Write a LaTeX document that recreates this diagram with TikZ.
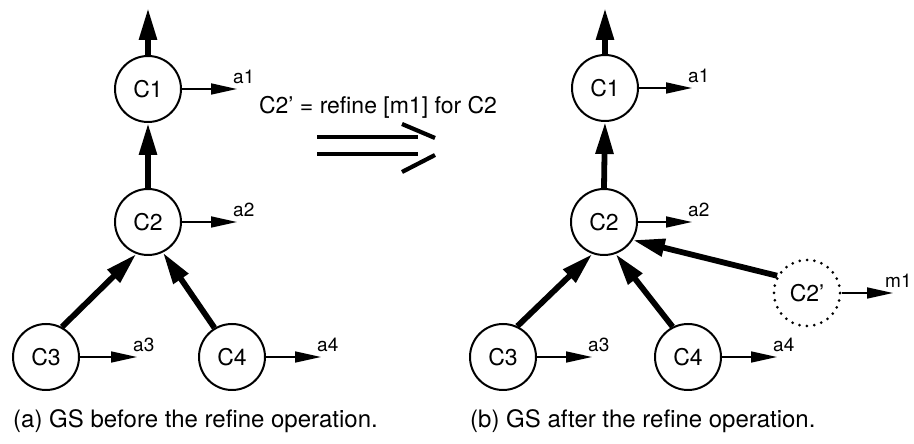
\documentclass[tikz,border=0pt]{standalone}
\usepackage{fontspec}
\setmainfont{TeX Gyre Heros}
\usetikzlibrary{arrows.meta}
\begin{document}
\begin{tikzpicture}[x=1pt,y=1pt,
  cnode/.style={circle, draw, line width=2pt, minimum size=66pt, inner sep=0pt, font=\fontsize{23}{25}\selectfont},
  dnode/.style={circle, draw, line width=3pt, dash pattern=on 0pt off 7.4pt, line cap=round, minimum size=66pt, inner sep=0pt, font=\fontsize{23}{25}\selectfont},
  thickarr/.style={line width=5.8pt, -{Triangle[length=32pt,width=17pt]}},
  thinarr/.style={line width=1.7pt, -{Triangle[length=26pt,width=11pt]}},
  lbl/.style={font=\fontsize{19}{21}\selectfont, inner sep=0pt, anchor=south west, xshift=-4pt, yshift=5pt},
  captxt/.style={font=\fontsize{24}{28}\selectfont, inner sep=0pt, anchor=base west},
  bar/.style={line width=4.2pt}
]
\useasboundingbox (0,0) rectangle (914,444);
% ---------- left diagram ----------
\node[cnode] (L1) at (148,355) {C1};
\node[cnode] (L2) at (148,222) {C2};
\node[cnode] (L3) at (46,87) {C3};
\node[cnode] (L4) at (232,87) {C4};
\coordinate (Ltop) at (148,436);
\coordinate (La1) at (237,355);
\coordinate (La2) at (237,222);
\coordinate (La3) at (137,87);
\coordinate (La4) at (321,87);
\draw[thickarr] (L1.north) -- (Ltop);
\draw[thickarr] (L2.north) -- (L1.south);
\draw[thickarr] (L3.62) -- (L2.-110);
\draw[thickarr] (L4.121) -- (L2.-64);
\draw[thinarr] (L1.east) -- (La1);
\draw[thinarr] (L2.east) -- (La2);
\draw[thinarr] (L3.east) -- (La3);
\draw[thinarr] (L4.east) -- (La4);
\node[lbl] (la1) at (La1) {a1};
\node[lbl] (la2) at (La2) {a2};
\node[lbl] (la3) at (La3) {a3};
\node[lbl] (la4) at (La4) {a4};
\node[captxt] (capa) at (13,16) {(a) GS before the refine operation.};
% ---------- middle ----------
\node[font=\fontsize{23}{25}\selectfont, inner sep=0pt] (eq) at (378,337) {C2' = refine [m1] for C2};
\draw[bar] (317,307) -- (418,307);
\draw[bar] (317,290) -- (418,290);
\draw[bar] (402,320) -- (435,306);
\draw[bar] (402,272) -- (435,289);
% ---------- right diagram ----------
\node[cnode] (R1) at (605,356) {C1};
\node[cnode] (R2) at (604,222) {C2};
\node[cnode] (R3) at (503,87) {C3};
\node[cnode] (R4) at (688,87) {C4};
\node[dnode] (R5) at (807,151) {C2'};
\coordinate (Rtop) at (605,436);
\coordinate (Ra1) at (692,356);
\coordinate (Ra2) at (692,222);
\coordinate (Ra3) at (592,87);
\coordinate (Ra4) at (777,87);
\coordinate (Rm1) at (893,151);
\draw[thickarr] (R1.north) -- (Rtop);
\draw[thickarr] (R2.north) -- (R1.south);
\draw[thickarr] (R3.65) -- (R2.-110);
\draw[thickarr] (R4.117) -- (R2.-70);
\draw[thickarr] (R5.150) -- (R2.-32);
\draw[thinarr] (R1.east) -- (Ra1);
\draw[thinarr] (R2.east) -- (Ra2);
\draw[thinarr] (R3.east) -- (Ra3);
\draw[thinarr] (R4.east) -- (Ra4);
\draw[thinarr] (R5.east) -- (Rm1);
\node[lbl] (ra1) at (Ra1) {a1};
\node[lbl] (ra2) at (Ra2) {a2};
\node[lbl] (ra3) at (Ra3) {a3};
\node[lbl] (ra4) at (Ra4) {a4};
\node[lbl, xshift=-4pt] (rm1) at (Rm1) {m1};
\node[captxt] (capb) at (470,16) {(b) GS after the refine operation.};
\end{tikzpicture}
\end{document}
